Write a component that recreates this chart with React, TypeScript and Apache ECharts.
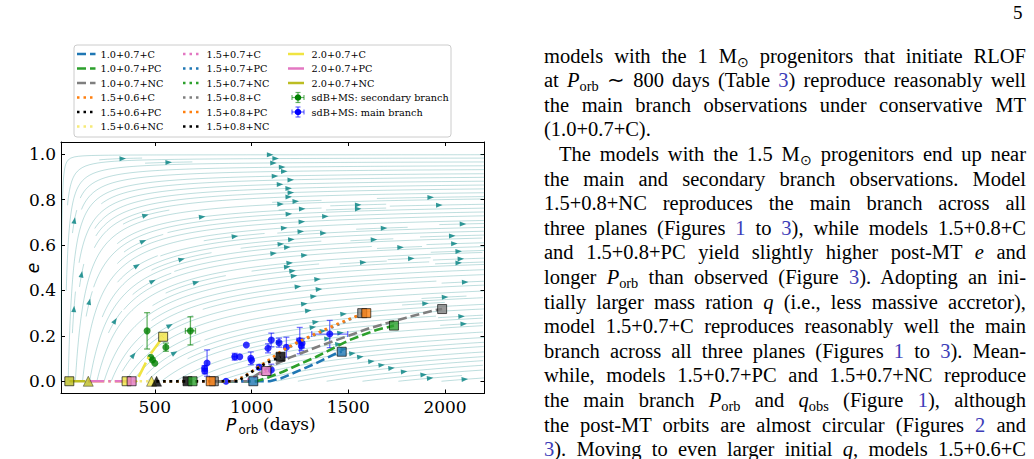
import React, { useEffect, useRef } from "react";
import * as echarts from "echarts";

// ---------------- axes ----------------
const xTickValues = [500, 1000, 1500, 2000];
const yTickValues = [0, 0.2, 0.4, 0.6, 0.8, 1.0];
const xRange = [15, 2204];
const yRange = [-0.054, 1.054];

// ---------------- model tracks (P_orb [days], e) ----------------
const modelNames = [
  "1.0+0.7+C", "1.0+0.7+PC", "1.0+0.7+NC", "1.5+0.6+C", "1.5+0.6+PC", "1.5+0.6+NC",
  "1.5+0.7+C", "1.5+0.7+PC", "1.5+0.7+NC", "1.5+0.8+C", "1.5+0.8+PC", "1.5+0.8+NC",
  "2.0+0.7+C", "2.0+0.7+PC", "2.0+0.7+NC",
];
const track_10_07_C = [[815, 0], [1094, 0], [1150, 0.012], [1214, 0.035], [1335, 0.08], [1438, 0.123], [1466, 0.13]];
const track_10_07_PC = [[815, 0], [1025, 0], [1090, 0.018], [1162, 0.042], [1335, 0.108], [1507, 0.182], [1645, 0.226], [1736, 0.245]];
const track_10_07_NC = [[815, 0], [980, 0], [1030, 0.03], [1094, 0.064], [1200, 0.105], [1335, 0.15], [1500, 0.2], [1610, 0.234], [1800, 0.28], [1937, 0.311], [1985, 0.318]];
const track_15_06_C = [[509, 0], [789, 0]];
const track_15_06_PC = [[509, 0], [669, 0]];
const track_15_06_NC = [[354, 0], [509, 0]];
const track_15_07_C = [[509, 0], [960, 0], [1020, 0.02], [1076, 0.045]];
const track_15_07_PC = [[509, 0], [1009, 0]];
const track_15_07_NC = [[509, 0], [695, 0]];
const track_15_08_C = [[509, 0], [900, 0], [960, 0.02], [1025, 0.055], [1100, 0.097], [1162, 0.134], [1250, 0.174], [1335, 0.207], [1450, 0.25], [1540, 0.285], [1572, 0.3]];
const track_15_08_PC = [[509, 0], [910, 0], [965, 0.022], [1025, 0.057], [1100, 0.1], [1162, 0.138], [1250, 0.178], [1335, 0.211], [1450, 0.255], [1558, 0.292], [1593, 0.3]];
const track_15_08_NC = [[509, 0], [930, 0], [1007, 0.045], [1077, 0.08], [1150, 0.108]];
const track_20_07_C = [[156, 0], [405, 0], [474, 0.116], [543, 0.196]];
const track_20_07_PC = [[156, 0], [380, 0]];
const track_20_07_NC = [[58, 0], [156, 0]];
const modelTracks = [
  track_10_07_C, track_10_07_PC, track_10_07_NC, track_15_06_C, track_15_06_PC, track_15_06_NC,
  track_15_07_C, track_15_07_PC, track_15_07_NC, track_15_08_C, track_15_08_PC, track_15_08_NC,
  track_20_07_C, track_20_07_PC, track_20_07_NC,
];

// track end (squares) and start (triangles) markers
const squareMarkers = [[58, 0], [354, 0], [380, 0], [669, 0], [695, 0], [805, 0], [789, 0], [1009, 0], [1076, 0.045], [1150, 0.108], [1466, 0.13], [1572, 0.3], [1593, 0.3], [1736, 0.245], [1985, 0.318], [543, 0.196]];
const squareColorKeys = ["olive", "yellow", "pink", "black", "green", "gray", "orange", "blue", "pink", "black", "blue", "gray", "orange", "green", "gray", "yellow"];
const triangleMarkers = [[156, 0], [483, 0], [509, 0]];
const triangleColorKeys = ["olive", "yellow", "black"];

// ---------------- observations ----------------
const secondaryP = [460, 684, 557, 479, 488, 500];
const secondaryE = [0.222, 0.222, 0.15, 0.106, 0.094, 0.079];
const secondaryPErr = [0, 26, 0, 0, 0, 0];
const secondaryEErr = [0.08, 0.062, 0.018, 0, 0, 0];

const mainP = [757, 758, 770, 868, 913, 939, 973, 996, 1000, 1039, 1085, 1102, 1102, 1142, 1180, 1249, 1257, 1261, 1404];
const mainE = [0.057, 0.045, 0.08, 0, 0.108, 0.108, 0.16, 0.101, 0.092, 0.062, 0.145, 0.05, 0.182, 0.17, 0.15, 0.179, 0.155, 0.167, 0.208];
const mainPErr = [0, 0, 0, 0, 10, 0, 0, 0, 0, 0, 0, 0, 0, 0, 0, 15, 0, 0, 93];
const mainEErr = [0.012, 0.012, 0.058, 0, 0.015, 0, 0, 0.028, 0, 0.01, 0.02, 0.025, 0.03, 0.02, 0.044, 0.058, 0.02, 0.02, 0.06];

// ---------------- background flow field (de/dP = K (1-e) / P^pow) ----------------
const fieldK = 29.5;
const fieldPow = 1.7;

// ---------------- styles ----------------
const palette: Record<string, string> = {
  blue: "#1f77b4", orange: "#ff7f0e", green: "#2ca02c", gray: "#7f7f7f", black: "#000000",
  pink: "#e377c2", olive: "#bcbd22", yellow: "#f0e442", paleyellow: "#f6ea78",
};
const modelColorKeys = ["blue", "green", "gray", "orange", "black", "paleyellow", "pink", "blue", "green", "gray", "orange", "black", "yellow", "pink", "olive"];
const DASH = [9, 4];
const DOT = [2.5, 4];
const DASHDOT = [16, 4, 2.5, 4];
const modelDash = [DASH, DASH, DASH, DOT, DOT, DOT, DOT, DOT, DOT, DOT, DOT, DOT, DASHDOT, DASHDOT, DASHDOT];

const GRID = { left: 61, top: 142, width: 423.5, height: 251.5 };
const pxPerP = GRID.width / (xRange[1] - xRange[0]);
const pxPerE = GRID.height / (yRange[1] - yRange[0]);

function buildStreamlines() {
  const NX = 60, NY = 60;
  const pA = xRange[0], pB = xRange[1];
  const eA = 0, eB = 1;
  const mask = new Uint8Array(NX * NY);
  const toData = (mx: number, my: number) => [pA + (mx / (NX - 1)) * (pB - pA), eA + (my / (NY - 1)) * (eB - eA)];
  const vel = (mx: number, my: number) => {
    const [P, e] = toData(mx, my);
    const dedP = (fieldK * (1 - e)) / Math.pow(P, fieldPow);
    const vx = (NX - 1) / (pB - pA);
    const vy = (dedP * (NY - 1)) / (eB - eA);
    const s = Math.hypot(vx, vy);
    return [vx / s, vy / s];
  };
  const inside = (x: number, y: number) => x >= 0 && x <= NX - 1 && y >= 0 && y <= NY - 1;
  const seeds: number[][] = [];
  let xfirst = 0, yfirst = 1, xlast = NX - 1, ylast = NY - 1, x = 0, y = 0, dir = 0;
  for (let i = 0; i < NX * NY; i++) {
    seeds.push([x, y]);
    if (dir === 0) { x++; if (x >= xlast) { xlast--; dir = 1; } }
    else if (dir === 1) { y++; if (y >= ylast) { ylast--; dir = 2; } }
    else if (dir === 2) { x--; if (x <= xfirst) { xfirst++; dir = 3; } }
    else { y--; if (y <= yfirst) { yfirst++; dir = 0; } }
  }
  const lines: number[][][] = [];
  for (const [sx, sy] of seeds) {
    if (sx < 0 || sy < 0 || sx >= NX || sy >= NY) continue;
    if (mask[sy * NX + sx]) continue;
    const marked = [sy * NX + sx];
    mask[sy * NX + sx] = 1;
    const run = (sgn: number) => {
      const pts: number[][] = [];
      let px = sx, py = sy, cx = sx, cy = sy, len = 0;
      for (let it = 0; it < 4000; it++) {
        const h = 0.3 * sgn;
        const k1 = vel(px, py);
        const mx = px + 0.5 * h * k1[0], my = py + 0.5 * h * k1[1];
        if (!inside(mx, my)) break;
        const k2 = vel(mx, my);
        const nx = px + h * k2[0], ny = py + h * k2[1];
        if (!inside(nx, ny)) break;
        const gx = Math.round(nx), gy = Math.round(ny);
        if (gx !== cx || gy !== cy) {
          const id = gy * NX + gx;
          if (mask[id]) break;
          mask[id] = 1; marked.push(id); cx = gx; cy = gy;
        }
        len += Math.hypot((nx - px) / (NX - 1), (ny - py) / (NY - 1));
        px = nx; py = ny; pts.push([px, py]);
        if (len > 4) break;
      }
      return { pts, len };
    };
    const b = run(-1);
    const f = run(1);
    if (b.len + f.len < 0.1) { for (const id of marked) mask[id] = 0; continue; }
    const raw = [...b.pts.reverse(), [sx, sy], ...f.pts].map(([a, c]) => toData(a, c));
    const thin = raw.filter((_, i) => i % 2 === 0 || i === raw.length - 1);
    lines.push(thin);
  }
  return lines;
}

function buildArrows(lines: number[][][]) {
  const arrows: any[] = [];
  for (const l of lines) {
    if (l.length < 3) continue;
    const cs: number[] = [];
    let acc = 0;
    for (let i = 1; i < l.length; i++) { acc += Math.hypot(l[i][0] - l[i - 1][0], l[i][1] - l[i - 1][1]); cs.push(acc); }
    let n = cs.findIndex((v) => v >= acc / 2);
    if (n < 0 || n >= l.length - 1) n = l.length - 2;
    const tail = l[n];
    const head = [(l[n][0] + l[n + 1][0]) / 2, (l[n][1] + l[n + 1][1]) / 2];
    const dx = (head[0] - tail[0]) * pxPerP;
    const dy = (head[1] - tail[1]) * pxPerE;
    const deg = (Math.atan2(dy, dx) * 180) / Math.PI;
    arrows.push({ value: head, symbolRotate: deg - 90 });
  }
  return arrows;
}

function errorBarSeries(name: string, P: number[], E: number[], PE: number[], EE: number[], color: string) {
  return {
    type: "custom",
    name,
    silent: true,
    z: 5,
    data: P.map((p, i) => [p, E[i], PE[i], EE[i]]),
    encode: { x: 0, y: 1 },
    renderItem: (params: any, api: any) => {
      const p = api.value(0), e = api.value(1), pe = api.value(2), ee = api.value(3);
      const style = { stroke: color, lineWidth: 1.3, fill: null };
      const ch: any[] = [];
      const cap = 3;
      if (ee > 0) {
        const a = api.coord([p, e - ee]);
        const b = api.coord([p, e + ee]);
        ch.push({ type: "line", shape: { x1: a[0], y1: a[1], x2: b[0], y2: b[1] }, style });
        ch.push({ type: "line", shape: { x1: a[0] - cap, y1: a[1], x2: a[0] + cap, y2: a[1] }, style });
        ch.push({ type: "line", shape: { x1: b[0] - cap, y1: b[1], x2: b[0] + cap, y2: b[1] }, style });
      }
      if (pe > 0) {
        const a = api.coord([p - pe, e]);
        const b = api.coord([p + pe, e]);
        ch.push({ type: "line", shape: { x1: a[0], y1: a[1], x2: b[0], y2: b[1] }, style });
        ch.push({ type: "line", shape: { x1: a[0], y1: a[1] - cap, x2: a[0], y2: a[1] + cap }, style });
        ch.push({ type: "line", shape: { x1: b[0], y1: b[1] - cap, x2: b[0], y2: b[1] + cap }, style });
      }
      return { type: "group", children: ch };
    },
  };
}

function legendGraphics() {
  const els: any[] = [];
  els.push({
    type: "rect", z: 50, shape: { x: 74, y: 45, width: 377, height: 92, r: 3 },
    style: { fill: "rgba(255,255,255,0.85)", stroke: "#cccccc", lineWidth: 1 },
  });
  const colX = [77, 183, 288];
  const rowY = [54, 68.5, 83, 97.5, 112, 126.5];
  const font = "9.7px 'DejaVu Serif'";
  modelNames.forEach((name, i) => {
    const c = Math.floor(i / 6), r = i % 6;
    const x = colX[c], y = rowY[r];
    els.push({
      type: "line", z: 51, shape: { x1: x, y1: y, x2: x + 18.5, y2: y },
      style: { stroke: palette[modelColorKeys[i]], lineWidth: 2.5, lineDash: modelDash[i] },
    });
    els.push({
      type: "text", z: 51, x: x + 23.5, y,
      style: { text: name, font, fill: "#000", align: "left", verticalAlign: "middle" },
    });
  });
  const obs = [
    { name: "sdB+MS: secondary branch", color: "#008000", bar: "rgba(0,128,0,0.6)", row: 3 },
    { name: "sdB+MS: main branch", color: "#0000ff", bar: "rgba(0,0,255,0.6)", row: 4 },
  ];
  obs.forEach((o) => {
    const cx = colX[2] + 10, cy = rowY[o.row];
    const st = { stroke: o.bar, lineWidth: 1.2 };
    els.push({ type: "line", z: 51, shape: { x1: cx - 6, y1: cy, x2: cx + 6, y2: cy }, style: st });
    els.push({ type: "line", z: 51, shape: { x1: cx, y1: cy - 5, x2: cx, y2: cy + 5 }, style: st });
    els.push({ type: "line", z: 51, shape: { x1: cx - 6, y1: cy - 2.5, x2: cx - 6, y2: cy + 2.5 }, style: st });
    els.push({ type: "line", z: 51, shape: { x1: cx + 6, y1: cy - 2.5, x2: cx + 6, y2: cy + 2.5 }, style: st });
    els.push({ type: "line", z: 51, shape: { x1: cx - 2.5, y1: cy - 5, x2: cx + 2.5, y2: cy - 5 }, style: st });
    els.push({ type: "line", z: 51, shape: { x1: cx - 2.5, y1: cy + 5, x2: cx + 2.5, y2: cy + 5 }, style: st });
    els.push({ type: "circle", z: 52, shape: { cx, cy, r: 3.3 }, style: { fill: o.color } });
    els.push({
      type: "text", z: 51, x: colX[2] + 23.5, y: cy,
      style: { text: o.name, font, fill: "#000", align: "left", verticalAlign: "middle" },
    });
  });
  return els;
}

function axisLabelGraphics() {
  return [
    { type: "text", x: 33, y: 268, rotation: Math.PI / 2, style: { text: "e", font: "italic 17px 'DejaVu Sans'", fill: "#000", align: "center", verticalAlign: "middle" } },
    { type: "text", x: 226, y: 425, style: { text: "P", font: "italic 17px 'DejaVu Sans'", fill: "#000", align: "left", verticalAlign: "middle" } },
    { type: "text", x: 238.5, y: 430, style: { text: "orb", font: "12px 'DejaVu Sans'", fill: "#000", align: "left", verticalAlign: "middle" } },
    { type: "text", x: 263, y: 424, style: { text: "(days)", font: "17px 'DejaVu Serif'", fill: "#000", align: "left", verticalAlign: "middle" } },
  ];
}

function Chart() {
  const ref = useRef<HTMLDivElement>(null);
  useEffect(() => {
    if (!ref.current) return;
    const chart = echarts.init(ref.current, null, { renderer: "svg" });
    const lines = buildStreamlines();
    const arrows = buildArrows(lines);
    const axisCommon = {
      type: "value",
      splitLine: { show: false },
      axisLine: { show: true, onZero: false, lineStyle: { color: "#000", width: 1 } },
    };
    const option: any = {
      animation: false,
      grid: { ...GRID },
      xAxis: [
        {
          ...axisCommon, min: xRange[0], max: xRange[1], position: "bottom",
          axisTick: { show: true, inside: true, length: 4, customValues: xTickValues, lineStyle: { color: "#000" } },
          axisLabel: { show: true, customValues: xTickValues, fontFamily: "DejaVu Serif", fontSize: 17, color: "#000", margin: 5, formatter: (v: number) => String(Math.round(v)) },
        },
        {
          ...axisCommon, min: xRange[0], max: xRange[1], position: "top",
          axisTick: { show: true, inside: true, length: 4, customValues: xTickValues, lineStyle: { color: "#000" } },
          axisLabel: { show: false },
        },
      ],
      yAxis: [
        {
          ...axisCommon, min: yRange[0], max: yRange[1], position: "left",
          axisTick: { show: true, inside: true, length: 4, customValues: yTickValues, lineStyle: { color: "#000" } },
          axisLabel: { show: true, customValues: yTickValues, fontFamily: "DejaVu Serif", fontSize: 17, color: "#000", margin: 5, formatter: (v: number) => v.toFixed(1) },
        },
        {
          ...axisCommon, min: yRange[0], max: yRange[1], position: "right",
          axisTick: { show: true, inside: true, length: 4, customValues: yTickValues, lineStyle: { color: "#000" } },
          axisLabel: { show: false },
        },
      ],
      graphic: [...legendGraphics(), ...axisLabelGraphics()],
      series: [
        {
          type: "lines", coordinateSystem: "cartesian2d", polyline: true, silent: true, z: 1,
          lineStyle: { color: "rgba(0,128,128,0.26)", width: 1, opacity: 1 },
          data: lines.map((l) => ({ coords: l })),
        },
        {
          type: "scatter", silent: true, z: 2, symbol: "triangle", symbolSize: [5, 6.5],
          itemStyle: { color: "#008080" },
          data: arrows,
        },
        errorBarSeries("secondary err", secondaryP, secondaryE, secondaryPErr, secondaryEErr, "rgba(0,128,0,0.6)"),
        errorBarSeries("main err", mainP, mainE, mainPErr, mainEErr, "rgba(0,0,255,0.55)"),
        {
          type: "scatter", name: "sdB+MS: secondary branch", silent: true, z: 6, symbol: "circle", symbolSize: 7,
          itemStyle: { color: "#008000" },
          data: secondaryP.map((p, i) => [p, secondaryE[i]]),
        },
        {
          type: "scatter", name: "sdB+MS: main branch", silent: true, z: 6, symbol: "circle", symbolSize: 7,
          itemStyle: { color: "#0000ff" },
          data: mainP.map((p, i) => [p, mainE[i]]),
        },
        ...modelNames.map((name, i) => ({
          type: "line", name, silent: true, z: 7, showSymbol: false, symbol: "none",
          lineStyle: { color: palette[modelColorKeys[i]], width: 2.6, type: modelDash[i], cap: "butt" },
          data: modelTracks[i],
        })),
        {
          type: "scatter", silent: true, z: 8, symbol: "rect", symbolSize: 9,
          data: squareMarkers.map((v, i) => ({ value: v, itemStyle: { color: palette[squareColorKeys[i]], borderColor: "#000", borderWidth: 0.8 } })),
        },
        {
          type: "scatter", silent: true, z: 8, symbol: "triangle", symbolSize: 10,
          data: triangleMarkers.map((v, i) => ({ value: v, itemStyle: { color: palette[triangleColorKeys[i]], borderColor: "#000", borderWidth: 0.5 } })),
        },
      ],
    };
    chart.setOption(option);
    return () => chart.dispose();
  }, []);
  return <div ref={ref} style={{ position: "absolute", left: 0, top: 0, width: 540, height: 459 }} />;
}

const LINK = "#3d3db8";
const L = ({ children }: { children: any }) => <span style={{ color: LINK }}>{children}</span>;
const Sub = ({ children }: { children: any }) => (
  <sub style={{ fontSize: "0.7em", verticalAlign: "-0.3em", lineHeight: 0 }}>{children}</sub>
);

const textLines: { content: any; justify: boolean; indent?: boolean }[] = [
  { content: <>models with the 1 M<Sub>⊙</Sub> progenitors that initiate RLOF</>, justify: true },
  { content: <>at <i>P</i><Sub>orb</Sub> ∼ 800 days (Table <L>3</L>) reproduce reasonably well</>, justify: true },
  { content: <>the main branch observations under conservative MT</>, justify: true },
  { content: <>(1.0+0.7+C).</>, justify: false },
  { content: <>The models with the 1.5 M<Sub>⊙</Sub> progenitors end up near</>, justify: true, indent: true },
  { content: <>the main and secondary branch observations. Model</>, justify: true },
  { content: <>1.5+0.8+NC reproduces the main branch across all</>, justify: true },
  { content: <>three planes (Figures <L>1</L> to <L>3</L>), while models 1.5+0.8+C</>, justify: true },
  { content: <>and 1.5+0.8+PC yield slightly higher post-MT <i>e</i> and</>, justify: true },
  { content: <>longer <i>P</i><Sub>orb</Sub> than observed (Figure <L>3</L>). Adopting an ini-</>, justify: true },
  { content: <>tially larger mass ration <i>q</i> (i.e., less massive accretor),</>, justify: true },
  { content: <>model 1.5+0.7+C reproduces reasonably well the main</>, justify: true },
  { content: <>branch across all three planes (Figures <L>1</L> to <L>3</L>). Mean-</>, justify: true },
  { content: <>while, models 1.5+0.7+PC and 1.5+0.7+NC reproduce</>, justify: true },
  { content: <>the main branch <i>P</i><Sub>orb</Sub> and <i>q</i><Sub>obs</Sub> (Figure <L>1</L>), although</>, justify: true },
  { content: <>the post-MT orbits are almost circular (Figures <L>2</L> and</>, justify: true },
  { content: <><L>3</L>). Moving to even larger initial <i>q</i>, models 1.5+0.6+C</>, justify: true },
];

export default function App() {
  const lineH = 24.6;
  const top0 = 43.5;
  return (
    <div style={{ position: "fixed", left: 0, top: 0, width: 1034, height: 459, overflow: "hidden", background: "#fff" }}>
      <Chart />
      <div style={{ position: "absolute", left: 1013, top: 2, fontFamily: "'Liberation Serif', serif", fontSize: 19, color: "#000" }}>5</div>
      {textLines.map((ln, i) => (
        <div
          key={i}
          style={{
            position: "absolute",
            left: ln.indent ? 559 : 544,
            top: top0 + i * lineH,
            width: ln.indent ? 467 : 482,
            height: lineH,
            lineHeight: `${lineH}px`,
            fontFamily: "'Liberation Serif', serif",
            fontSize: 20.5,
            color: "#000",
            textAlign: ln.justify ? "justify" : "left",
            textAlignLast: ln.justify ? "justify" : "left",
            whiteSpace: "normal",
          } as any}
        >
          {ln.content}
        </div>
      ))}
    </div>
  );
}
